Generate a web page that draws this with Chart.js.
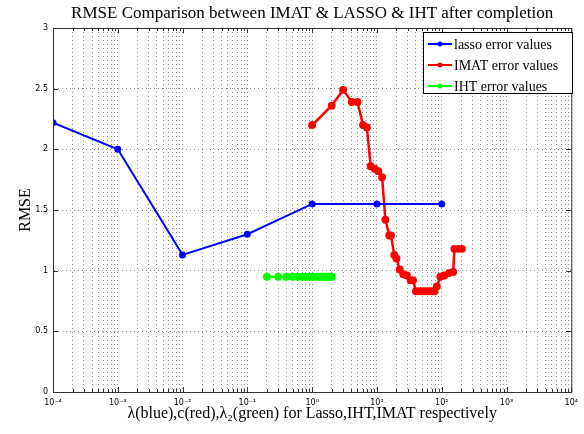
<!DOCTYPE html>
<html>
<head>
<meta charset="utf-8">
<script src="https://cdn.jsdelivr.net/npm/chart.js@4/dist/chart.umd.min.js"></script>
<style>
  html, body { margin: 0; padding: 0; background: #fff; }
  #wrap { width: 584px; height: 434px; }
</style>
</head>
<body>
<div id="wrap"><canvas id="rmseChart" width="584" height="434"></canvas></div>
<script>
// lasso: lambda vs RMSE
const lassoX = [1e-4, 1e-3, 1e-2, 1e-1, 1, 10, 100];
const lassoY = [2.22, 2.0, 1.13, 1.30, 1.55, 1.55, 1.55];

// IMAT: c vs RMSE
const imatX = [1, 2, 3, 4.1, 5, 6.1, 7, 8, 9.2, 10.5, 12, 13.5, 15.5, 16.5, 18.5, 20, 22.5, 25.5, 29, 33, 36, 40, 45, 50, 56, 63, 70, 77, 84, 95, 110, 130, 150, 157, 180, 205];
const imatY = [2.2, 2.36, 2.49, 2.39, 2.39, 2.2, 2.18, 1.86, 1.84, 1.82, 1.77, 1.42, 1.29, 1.29, 1.13, 1.10, 1.01, 0.97, 0.96, 0.92, 0.92, 0.83, 0.83, 0.83, 0.83, 0.83, 0.83, 0.83, 0.87, 0.95, 0.96, 0.98, 0.99, 1.18, 1.18, 1.18];

// IHT: lambda2 vs RMSE
const ihtX = [0.2, 0.3, 0.4, 0.5, 0.6, 0.7, 0.8, 0.9, 1.0, 1.1, 1.2, 1.3, 1.4, 1.5, 1.6, 1.7, 1.8, 1.9, 2.0];
const ihtY = [0.95, 0.95, 0.95, 0.95, 0.95, 0.95, 0.95, 0.95, 0.95, 0.95, 0.95, 0.95, 0.95, 0.95, 0.95, 0.95, 0.95, 0.95, 0.95];

const yTicks = [0, 0.5, 1, 1.5, 2, 2.5, 3];
const xDecades = [-4, -3, -2, -1, 0, 1, 2, 3, 4];
const titleText = "RMSE Comparison between IMAT & LASSO & IHT after completion";
const supMap = { "-": "\u207B", "0": "\u2070", "1": "\u00B9", "2": "\u00B2", "3": "\u00B3", "4": "\u2074" };

const toPts = (xs, ys) => xs.map((x, i) => ({ x: x, y: ys[i] }));

// all grid positions on the log axis: 1..9 x 10^n
const xGrid = [];
xDecades.forEach(d => {
  for (let m = 1; m <= 9; m++) {
    if (d === 4 && m > 1) break;
    xGrid.push(m * Math.pow(10, d));
  }
});

const frameAndLegend = {
  id: "frameAndLegend",
  afterDraw(chart) {
    const ctx = chart.ctx;
    const a = chart.chartArea;
    ctx.save();
    ctx.strokeStyle = "#333";
    ctx.lineWidth = 1;
    ctx.strokeRect(a.left + 0.5, a.top + 0.5, a.right - a.left, a.bottom - a.top);

    // short inward tick marks, matlab style
    const xs = chart.scales.x, ys = chart.scales.y;
    ctx.beginPath();
    xGrid.forEach(v => {
      const px = Math.round(xs.getPixelForValue(v)) + 0.5;
      const len = Math.abs(Math.log10(v) - Math.round(Math.log10(v))) < 1e-9 ? 5 : 3;
      ctx.moveTo(px, a.bottom); ctx.lineTo(px, a.bottom - len);
      ctx.moveTo(px, a.top); ctx.lineTo(px, a.top + len);
    });
    yTicks.forEach(v => {
      const py = Math.round(ys.getPixelForValue(v)) + 0.5;
      ctx.moveTo(a.left, py); ctx.lineTo(a.left + 5, py);
      ctx.moveTo(a.right, py); ctx.lineTo(a.right - 5, py);
    });
    ctx.stroke();

    // title centred over the plot area
    ctx.fillStyle = "#000";
    ctx.font = "17px 'Liberation Serif'";
    ctx.textAlign = "center";
    ctx.textBaseline = "middle";
    ctx.fillText(titleText, (a.left + a.right) / 2, 14);

    // legend box in the upper right
    const bx = 423, by = 32, bw = 149, bh = 61;
    ctx.fillStyle = "#fff";
    ctx.fillRect(bx, by, bw, bh);
    ctx.strokeStyle = "#000";
    ctx.strokeRect(bx + 0.5, by + 0.5, bw, bh);
    const rows = [44, 65, 86];
    ctx.textAlign = "left";
    chart.data.datasets.forEach((ds, i) => {
      const y = rows[i];
      ctx.strokeStyle = ds.borderColor;
      ctx.lineWidth = 2;
      ctx.beginPath();
      ctx.moveTo(428, y);
      ctx.lineTo(452, y);
      ctx.stroke();
      ctx.fillStyle = ds.borderColor;
      ctx.beginPath();
      ctx.arc(440, y, 2.5, 0, Math.PI * 2);
      ctx.fill();
      ctx.fillStyle = "#000";
      ctx.font = "14px 'Liberation Serif'";
      ctx.fillText(ds.label, 454, y + 1);
    });
    ctx.restore();
  }
};

new Chart(document.getElementById("rmseChart"), {
  type: "line",
  data: {
    datasets: [
      {
        label: "lasso error values",
        data: toPts(lassoX, lassoY),
        borderColor: "#0000ff",
        backgroundColor: "#0000ff",
        borderWidth: 2,
        pointRadius: 2.5,
        pointHoverRadius: 2.5
      },
      {
        label: "IMAT error values",
        data: toPts(imatX, imatY),
        borderColor: "#ff0000",
        backgroundColor: "#ff0000",
        borderWidth: 2.5,
        pointRadius: 2.7,
        pointHoverRadius: 2.7
      },
      {
        label: "IHT error values",
        data: toPts(ihtX, ihtY),
        borderColor: "#00ff00",
        backgroundColor: "#00ff00",
        borderWidth: 2.5,
        pointRadius: 2.7,
        pointHoverRadius: 2.7
      }
    ]
  },
  options: {
    responsive: false,
    animation: false,
    events: [],
    layout: { padding: { left: 0, right: 12, top: 28, bottom: 0 } },
    plugins: {
      legend: { display: false },
      tooltip: { enabled: false },
      title: { display: false }
    },
    scales: {
      x: {
        type: "logarithmic",
        min: 1e-4,
        max: 1e4,
        afterBuildTicks: scale => {
          scale.ticks = xGrid.map(v => ({ value: v }));
        },
        afterFit: scale => { scale.height = 42; },
        ticks: {
          autoSkip: false,
          maxRotation: 0,
          padding: 6,
          color: "#000",
          font: { family: "'DejaVu Sans'", size: 8 },
          callback: v => {
            const e = Math.round(Math.log10(v));
            if (Math.abs(v - Math.pow(10, e)) > 1e-12 * Math.pow(10, e)) return "";
            return "10" + String(e).split("").map(c => supMap[c]).join("");
          }
        },
        grid: {
          color: "#909090",
          lineWidth: 1,
          drawTicks: false
        },
        border: { color: "#333", dash: [1, 3], display: true },
        title: {
          display: true,
          text: "\u03BB(blue),c(red),\u03BB\u2082(green) for Lasso,IHT,IMAT respectively",
          color: "#000",
          font: { family: "'Liberation Serif'", size: 16 },
          padding: { top: 0, bottom: 11 }
        }
      },
      y: {
        min: 0,
        max: 3,
        afterBuildTicks: scale => {
          scale.ticks = yTicks.map(v => ({ value: v }));
        },
        afterFit: scale => { scale.width = 53; },
        ticks: {
          padding: 5,
          color: "#000",
          font: { family: "'DejaVu Sans'", size: 8 },
          callback: v => String(v)
        },
        grid: {
          color: "#909090",
          lineWidth: 1,
          drawTicks: false
        },
        border: { color: "#333", dash: [1, 3], display: true },
        title: {
          display: true,
          text: "RMSE",
          color: "#000",
          font: { family: "'Liberation Serif'", size: 16 },
          padding: { top: 16, bottom: 6 }
        }
      }
    }
  },
  plugins: [frameAndLegend]
});
</script>
</body>
</html>
